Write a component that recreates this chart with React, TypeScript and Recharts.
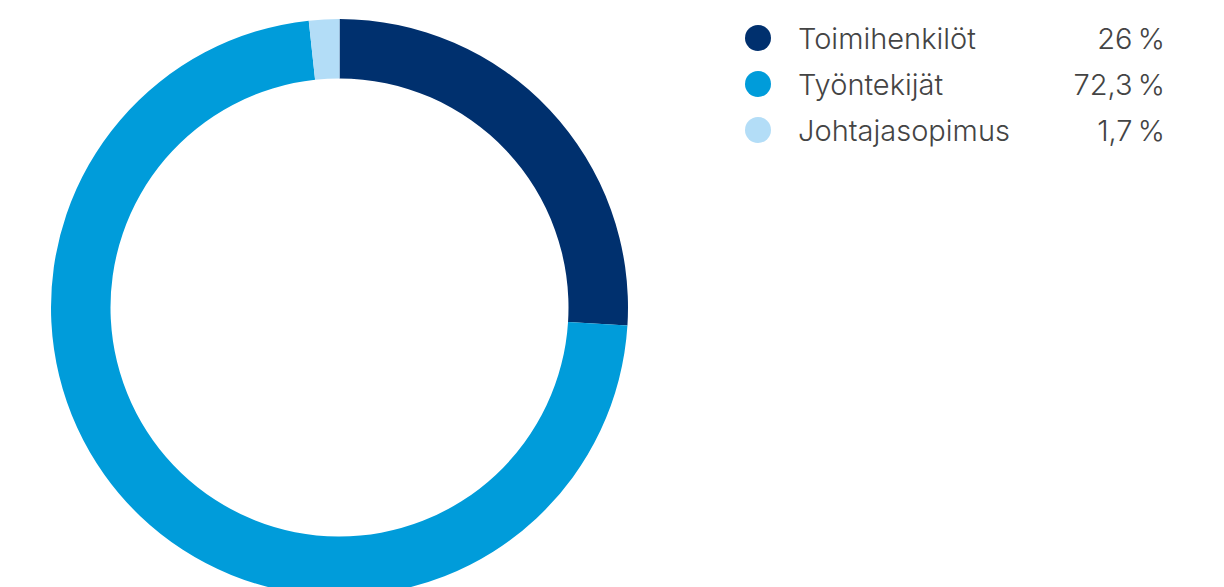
import { PieChart, Pie, Cell, Legend } from "recharts";

const LABELS = ["Toimihenkilöt", "Työntekijät", "Johtajasopimus"];
const VALUES = [26, 72.3, 1.7];
const VALUE_TEXT = ["26\u202F%", "72,3\u202F%", "1,7\u202F%"];
const COLORS = ["#00306e", "#009cda", "#b3ddf7"];

const data = LABELS.map((name, i) => ({ name, value: VALUES[i] }));

function renderLegend() {
  return (
    <div style={{ width: 420 }}>
      {LABELS.map((name, i) => (
        <div
          key={name}
          style={{
            display: "flex",
            alignItems: "center",
            height: 46,
            fontFamily: "Inter, 'Noto Sans', sans-serif",
            fontWeight: 300,
            fontSize: 29,
            color: "#444",
          }}
        >
          <span
            style={{
              width: 26,
              height: 26,
              borderRadius: "50%",
              background: COLORS[i],
              marginRight: 27,
              flexShrink: 0,
            }}
          />
          <span style={{ flex: 1 }}>{name}</span>
          <span>{VALUE_TEXT[i]}</span>
        </div>
      ))}
    </div>
  );
}

export default function App() {
  return (
    <div style={{ position: "fixed", left: 0, top: 0, background: "#fff" }}>
      <PieChart
        width={1224}
        height={587}
        margin={{ top: 0, right: 0, bottom: 0, left: 0 }}
      >
        <Pie
          data={data}
          dataKey="value"
          cx={339.5}
          cy={307.5}
          outerRadius={288.5}
          innerRadius={229}
          startAngle={90}
          endAngle={-270}
          stroke="none"
          isAnimationActive={false}
        >
          {data.map((_, i) => (
            <Cell key={`cell-${i}`} fill={COLORS[i]} />
          ))}
        </Pie>
        <Legend
          content={renderLegend}
          wrapperStyle={{ left: 745, top: 15, width: 420 }}
        />
      </PieChart>
    </div>
  );
}
